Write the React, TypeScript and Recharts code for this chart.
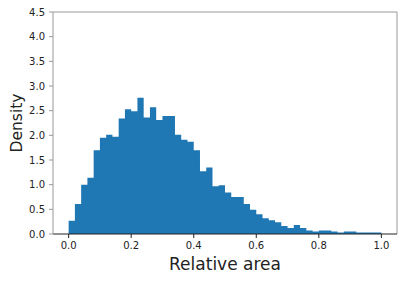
import { AreaChart, Area, XAxis, YAxis, Label, ReferenceLine } from 'recharts';

// left edges of the histogram bins (last entry closes the final bin)
const binEdges = [
  0.0, 0.02, 0.04, 0.06, 0.08, 0.1, 0.12, 0.14, 0.16, 0.18,
  0.2, 0.22, 0.24, 0.26, 0.28, 0.3, 0.32, 0.34, 0.36, 0.38,
  0.4, 0.42, 0.44, 0.46, 0.48, 0.5, 0.52, 0.54, 0.56, 0.58,
  0.6, 0.62, 0.64, 0.66, 0.68, 0.7, 0.72, 0.74, 0.76, 0.78,
  0.8, 0.82, 0.84, 0.86, 0.88, 0.9, 0.92, 0.94, 0.96, 0.98, 1.0,
];

const density = [
  0.27, 0.61, 1.0, 1.14, 1.7, 1.95, 2.01, 1.97, 2.34, 2.53,
  2.49, 2.76, 2.36, 2.57, 2.31, 2.39, 2.39, 2.01, 1.91, 1.87,
  1.7, 1.27, 1.35, 0.97, 0.99, 0.84, 0.75, 0.75, 0.61, 0.49,
  0.4, 0.32, 0.28, 0.24, 0.16, 0.12, 0.18, 0.12, 0.07, 0.05,
  0.07, 0.07, 0.05, 0.03, 0.05, 0.05, 0.03, 0.03, 0.03, 0.03,
];

const xTicks = [0, 0.2, 0.4, 0.6, 0.8, 1.0];
const yTicks = [0, 0.5, 1.0, 1.5, 2.0, 2.5, 3.0, 3.5, 4.0, 4.5];

const data = binEdges.map((x, i) => ({ x, density: density[Math.min(i, density.length - 1)] }));

const font = 'DejaVu Sans';

export default function App() {
  return (
    <div style={{ position: 'absolute', left: 0, top: 0, background: '#fff' }}>
      <AreaChart width={407} height={281} data={data} margin={{ top: 12, right: 10, left: 13, bottom: 0 }}>
        <XAxis
          dataKey="x"
          type="number"
          domain={[-0.05, 1.05]}
          ticks={xTicks}
          tickFormatter={(v) => v.toFixed(1)}
          allowDataOverflow
          height={47}
          stroke="#222"
          tickSize={4}
          tickMargin={4}
          tick={{ fill: '#222', fontSize: 10, fontFamily: font }}
        >
          <Label value="Relative area" position="insideBottom" offset={11} style={{ fill: '#222', fontSize: 17, fontFamily: font }} />
        </XAxis>
        <YAxis
          domain={[0, 4.5]}
          ticks={yTicks}
          tickFormatter={(v) => v.toFixed(1)}
          width={40}
          stroke="#999"
          tickSize={4}
          tickMargin={4}
          tick={{ fill: '#222', fontSize: 10, fontFamily: font }}
        >
          <Label value="Density" angle={-90} position="insideLeft" offset={3} style={{ fill: '#222', fontSize: 15.5, fontFamily: font, textAnchor: 'middle' }} />
        </YAxis>
        <Area
          type="stepAfter"
          dataKey="density"
          stroke="none"
          fill="#1f77b4"
          fillOpacity={1}
          baseValue={0}
          isAnimationActive={false}
        />
        <ReferenceLine y={4.5} stroke="#999" strokeWidth={1} />
        <ReferenceLine x={1.05} stroke="#999" strokeWidth={1} />
      </AreaChart>
    </div>
  );
}
